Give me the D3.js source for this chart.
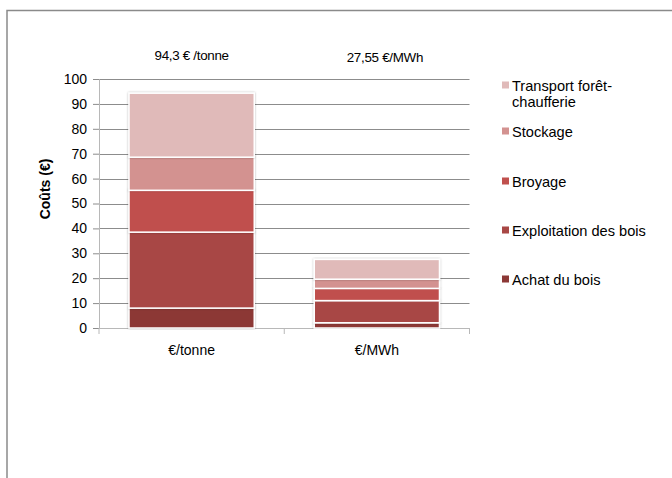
<!DOCTYPE html>
<html>
<head>
<meta charset="utf-8">
<script src="https://cdn.jsdelivr.net/npm/d3@7"></script>
<style>
  html, body { margin: 0; padding: 0; background: #fff; }
  svg { display: block; font-family: "Liberation Sans", Arial, sans-serif; }
</style>
</head>
<body>
<svg id="chart" width="672" height="478"></svg>
<script>
// Cost breakdown of wood chips, per tonne and per MWh
const categories = ["€/tonne", "€/MWh"];
const seriesNames = ["Achat du bois", "Exploitation des bois", "Broyage", "Stockage", "Transport forêt-chaufferie"];
const achat        = [8.0, 2.1];
const exploitation = [30.5, 8.9];
const broyage      = [16.8, 4.9];
const stockage     = [13.3, 3.7];
const transport    = [25.7, 7.95];
const totalLabels  = ["94,3 € /tonne", "27,55 €/MWh"];
const yTicks       = [0, 10, 20, 30, 40, 50, 60, 70, 80, 90, 100];
const colors       = ["#8C3836", "#A84745", "#C0504D", "#D39290", "#E0BAB9"];

const seriesValues = [achat, exploitation, broyage, stockage, transport];
const rows = categories.map((c, i) => {
  const r = { cat: c };
  seriesNames.forEach((s, k) => r[s] = seriesValues[k][i]);
  return r;
});

const svg = d3.select("#chart");

// outer frame
svg.append("path")
  .attr("d", "M7,478 V10.5 H672")
  .attr("fill", "none").attr("stroke", "#8a8a8a").attr("stroke-width", 1.5);

const plot = { left: 99, right: 469.5, top: 79, bottom: 328 };

const x = d3.scaleBand().domain(categories).range([plot.left, plot.right]).padding(0);
const y = d3.scaleLinear().domain([0, 100]).range([plot.bottom, plot.top]);

// horizontal gridlines
svg.append("g").selectAll("line").data(yTicks.filter(t => t > 0)).join("line")
  .attr("x1", plot.left).attr("x2", plot.right)
  .attr("y1", d => Math.round(y(d)) + 0.5).attr("y2", d => Math.round(y(d)) + 0.5)
  .attr("stroke", "#8c8c8c").attr("stroke-width", 1);

// y axis
const yAxis = svg.append("g").attr("transform", `translate(${plot.left},0)`)
  .call(d3.axisLeft(y).tickValues(yTicks).tickSize(6).tickPadding(6));
yAxis.select(".domain").attr("stroke", "#b8b8b8");
yAxis.selectAll(".tick line").attr("stroke", "#8c8c8c");
yAxis.selectAll(".tick text").attr("font-size", 14).attr("fill", "#000")
  .attr("font-family", "Liberation Sans, Arial, sans-serif");

// x axis
const xAxis = svg.append("g").attr("transform", `translate(0,${plot.bottom})`)
  .call(d3.axisBottom(x).tickSize(0).tickPadding(17));
xAxis.select(".domain").attr("stroke", "#b8b8b8");
xAxis.selectAll(".tick text").attr("font-size", 14).attr("fill", "#000")
  .attr("font-family", "Liberation Sans, Arial, sans-serif");
// category separators
const bounds = [plot.left, ...categories.map(c => x(c) + x.bandwidth())];
svg.append("g").selectAll("line").data(bounds).join("line")
  .attr("x1", d => d).attr("x2", d => d)
  .attr("y1", plot.bottom).attr("y2", plot.bottom + 6)
  .attr("stroke", "#b8b8b8");

// stacked bars
const stack = d3.stack().keys(seriesNames)(rows);
const barW = x.bandwidth() * 0.676;
const barX = c => x(c) + (x.bandwidth() - barW) / 2;

const defs = svg.append("defs");
defs.append("filter").attr("id", "shadow").attr("x", "-10%").attr("y", "-10%")
  .attr("width", "120%").attr("height", "120%")
  .append("feDropShadow").attr("dx", 0).attr("dy", 0).attr("stdDeviation", 1.2)
  .attr("flood-color", "#000").attr("flood-opacity", 0.3);

const barsG = svg.append("g");
stack.forEach((layer, k) => {
  barsG.selectAll(null).data(layer).join("rect")
    .attr("x", d => barX(d.data.cat))
    .attr("width", barW)
    .attr("y", d => y(d[1]))
    .attr("height", d => y(d[0]) - y(d[1]))
    .attr("fill", colors[k])
    .attr("stroke", "#fff").attr("stroke-width", 1.5)
    .attr("filter", "url(#shadow)");
});

// totals above bars
const totalOffsets = [0, 8];
svg.append("g").selectAll("text").data(categories).join("text")
  .attr("x", (c, i) => x(c) + x.bandwidth() / 2 + totalOffsets[i])
  .attr("y", (c, i) => i === 0 ? 60 : 62)
  .attr("text-anchor", "middle")
  .attr("font-size", 13.4).attr("letter-spacing", -0.3).attr("fill", "#000")
  .text((c, i) => totalLabels[i]);

// y axis title
svg.append("text")
  .attr("transform", "translate(50,189) rotate(-90)")
  .attr("text-anchor", "middle")
  .attr("font-size", 14).attr("font-weight", "bold").attr("fill", "#000")
  .text("Coûts (€)");

// legend (top entry = last series)
const legendItems = [
  { name: seriesNames[4], lines: ["Transport forêt-", "chaufferie"], y: 86, color: colors[4] },
  { name: seriesNames[3], lines: ["Stockage"], y: 132, color: colors[3] },
  { name: seriesNames[2], lines: ["Broyage"], y: 182, color: colors[2] },
  { name: seriesNames[1], lines: ["Exploitation des bois"], y: 231, color: colors[1] },
  { name: seriesNames[0], lines: ["Achat du bois"], y: 280, color: colors[0] }
];
const lg = svg.append("g").selectAll("g").data(legendItems).join("g");
lg.append("rect")
  .attr("x", 502).attr("y", d => d.y - 4.5).attr("width", 7).attr("height", 7)
  .attr("fill", d => d.color);
lg.append("text")
  .attr("x", 512).attr("y", d => d.y + 5)
  .attr("font-size", 14.6).attr("fill", "#000")
  .selectAll("tspan").data(d => d.lines).join("tspan")
  .attr("x", 512).attr("dy", (l, i) => i === 0 ? 0 : 15.5)
  .text(l => l);
</script>
</body>
</html>
